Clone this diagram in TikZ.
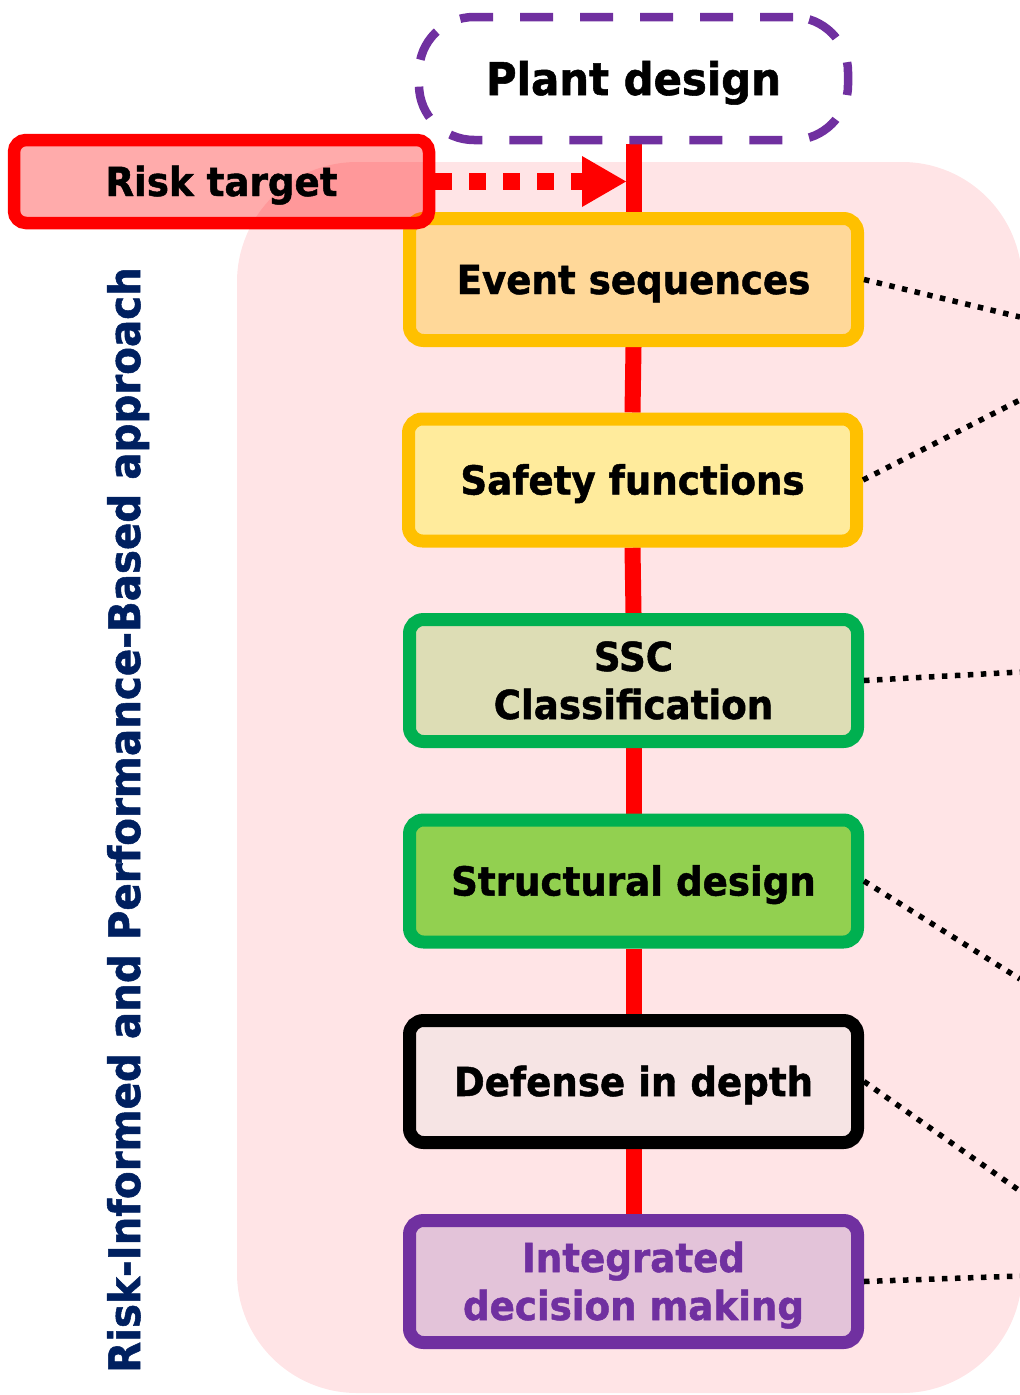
\documentclass[tikz,border=0pt]{standalone}
\usepackage{fontspec}
\setmainfont{DejaVu Sans}[FakeStretch=0.93, BoldFeatures={FakeBold=1.2}]
\usetikzlibrary{arrows.meta}

\definecolor{bgpink}{HTML}{FFE4E6}
\definecolor{navy}{HTML}{002060}
\definecolor{plum}{HTML}{7030A0}
\definecolor{amber}{HTML}{FFC000}
\definecolor{leaf}{HTML}{00B050}
\definecolor{evtfill}{HTML}{FFD899}
\definecolor{saffill}{HTML}{FFEB9C}
\definecolor{sscfill}{HTML}{DDDDB5}
\definecolor{strfill}{HTML}{92D050}
\definecolor{dfnfill}{HTML}{F6E4E4}
\definecolor{idmfill}{HTML}{E3C3D9}

\pgfdeclarelayer{back}
\pgfdeclarelayer{mid}
\pgfsetlayers{back,mid,main}

\begin{document}
\begin{tikzpicture}[x=1pt,y=-1pt,
  stage/.style={draw, line width=13pt, rounded corners=14pt,
    minimum width=448pt, minimum height=122pt, inner sep=0pt,
    align=center, text height=29pt, text depth=0pt,
    font=\bfseries\fontsize{40}{48}\selectfont},
  twoline/.style={text height=77pt},
  trunk/.style={draw=red, line width=16pt},
  link/.style={draw=black, line width=5.5pt, dash pattern=on 5.5pt off 7.5pt},
  riskarrow/.style={draw=red, line width=17pt, dash pattern=on 17pt off 17pt,
    -{Triangle[length=44pt,width=51pt,line width=0pt]}}]

\useasboundingbox (0,0) rectangle (1020,1395);
\clip (0,0) rectangle (1020,1395);

% shaded area behind the design steps
\begin{pgfonlayer}{back}
\fill[bgpink, rounded corners=120pt] (237,162) rectangle (1022,1393);
\end{pgfonlayer}

% side caption
\node[rotate=90, anchor=base, text=navy,
      font=\bfseries\fontsize{43.4}{50}\selectfont] (side) at (140,820)
  {Risk-Informed and Performance-Based approach};

% design steps
\node[draw=plum, line width=8.5pt, dash pattern=on 33pt off 27pt,
      rounded corners=55pt, fill=white, minimum width=429pt, minimum height=123pt,
      inner sep=0pt, text height=33pt, text depth=0pt,
      font=\bfseries\fontsize{45}{54}\selectfont] (plant) at (633.5,78.5) {Plant design};

\node[stage, draw=amber, fill=evtfill] (evt) at (633.5,279.5) {Event sequences};
\node[stage, draw=amber, fill=saffill] (saf) at (632.5,480) {Safety functions};
\node[stage, twoline, draw=leaf, fill=sscfill] (ssc) at (633.5,680.5) {SSC\\Classification};
\node[stage, draw=leaf, fill=strfill] (str) at (633.5,881) {Structural design};
\node[stage, draw=black, fill=dfnfill] (dfn) at (633.5,1081.5) {Defense in depth};
\node[stage, twoline, draw=plum, fill=idmfill, text=plum] (idm) at (633.5,1281.5) {Integrated\\decision making};

% red trunk joining the steps, kept behind the boxes
\begin{pgfonlayer}{mid}
\path[trunk] (plant.south) -- (evt.north);
\path[trunk] (evt.south) -- (saf.north);
\path[trunk] (saf.south) -- (ssc.north);
\path[trunk] (ssc.south) -- (str.north);
\path[trunk] (str.south) -- (dfn.north);
\path[trunk] (dfn.south) -- (idm.north);
\end{pgfonlayer}

% dotted leaders to the right edge
\coordinate (r1) at (1020,317);
\coordinate (r2) at (1020,400);
\coordinate (r3) at (1020,672);
\coordinate (r4) at (1020,979);
\coordinate (r5) at (1020,1191);
\coordinate (r6) at (1020,1276);
\path[link] (evt.east) -- (r1);
\path[link] (saf.east) -- (r2);
\path[link] (ssc.east) -- (r3);
\path[link] (str.east) -- (r4);
\path[link] (dfn.east) -- (r5);
\path[link] (idm.east) -- (r6);

% risk target feeding the design flow
\coordinate (hit) at (626,181.5);
\node[draw=red, line width=12.5pt, rounded corners=12pt, fill=red, fill opacity=0.33,
      text opacity=1, minimum width=415pt, minimum height=83pt, inner sep=0pt,
      text height=29pt, text depth=0pt,
      font=\bfseries\fontsize{40}{48}\selectfont] (risk) at (221.5,181.5) {Risk target};
\path[riskarrow] (risk.east) -- (hit);
\end{tikzpicture}
\end{document}
